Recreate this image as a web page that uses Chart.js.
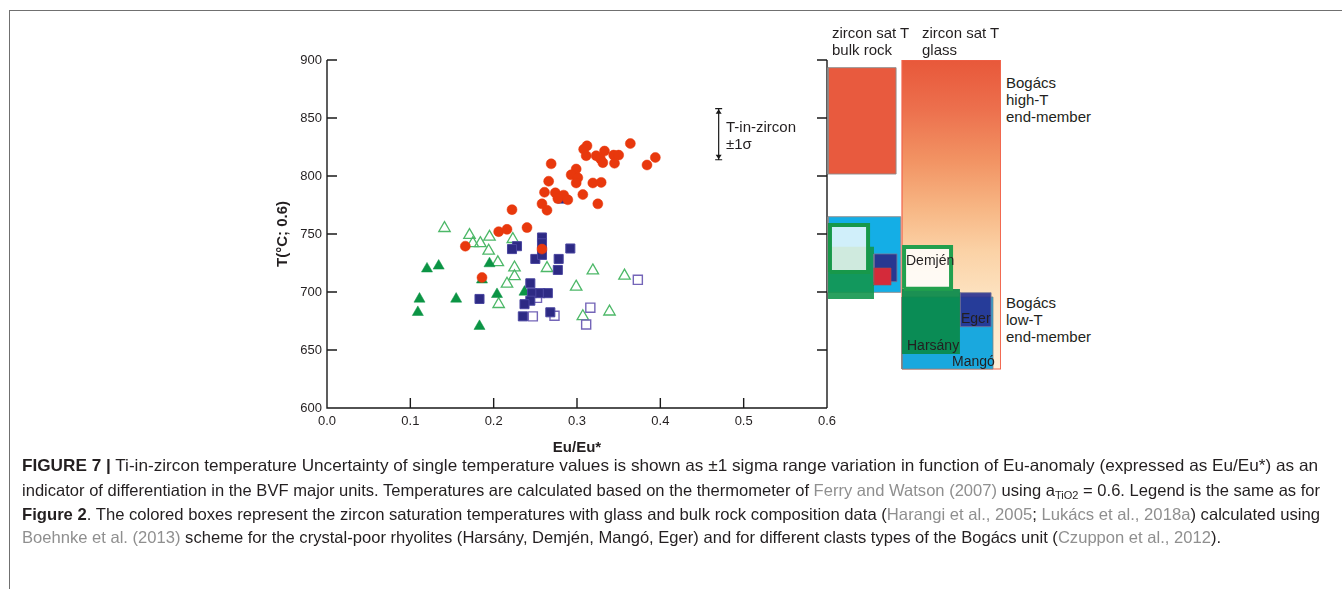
<!DOCTYPE html>
<html><head><meta charset="utf-8">
<script src="https://cdn.jsdelivr.net/npm/chart.js@4.4.0/dist/chart.umd.min.js"></script>
<style>
html,body{margin:0;padding:0;background:#fff;}
body{width:1342px;height:589px;position:relative;overflow:hidden;font-family:"Liberation Sans",Arial,Helvetica,sans-serif;color:#231f20;}
#frame{position:absolute;left:9px;top:10px;width:1340px;height:600px;border-left:1px solid #707070;border-top:1px solid #707070;}
#cA{position:absolute;left:0;top:0;}
#cB{position:absolute;left:827px;top:0;}
.lbl{position:absolute;font-size:15px;white-space:nowrap;line-height:17px;color:#231f20;}
.box{font-size:14px;line-height:16px;}
.cap{position:absolute;left:22px;white-space:nowrap;font-size:16.5px;line-height:19px;color:#231f20;transform-origin:0 0;}
.ref{color:#8f8f8f;}
sub{font-size:11px;vertical-align:-3px;line-height:0;}
</style></head>
<body>
<div id="frame"></div>
<canvas id="cA" width="900" height="589"></canvas>
<canvas id="cB" width="175" height="589"></canvas>

<div class="lbl" style="left:832px;top:24px;">zircon sat T<br>bulk rock</div>
<div class="lbl" style="left:922px;top:24px;">zircon sat T<br>glass</div>
<div class="lbl" style="left:1006px;top:74px;">Bogács<br>high-T<br>end-member</div>
<div class="lbl" style="left:1006px;top:294px;">Bogács<br>low-T<br>end-member</div>
<div class="lbl box" style="left:906px;top:252px;">Demjén</div>
<div class="lbl box" style="left:961px;top:310px;">Eger</div>
<div class="lbl box" style="left:907px;top:337px;">Harsány</div>
<div class="lbl box" style="left:952px;top:353px;">Mangó</div>
<div class="lbl" style="left:726px;top:118px;">T-in-zircon</div>
<div class="lbl" style="left:726px;top:135px;">±1σ</div>

<div class="cap" id="l1" style="top:456px;"><b>FIGURE 7 |</b> Ti-in-zircon temperature Uncertainty of single temperature values is shown as ±1 sigma range variation in function of Eu-anomaly (expressed as Eu/Eu*) as an</div>
<div class="cap" id="l2" style="top:481px;">indicator of differentiation in the BVF major units. Temperatures are calculated based on the thermometer of <span class="ref">Ferry and Watson (2007)</span> using a<sub>TiO2</sub> = 0.6. Legend is the same as for</div>
<div class="cap" id="l3" style="top:505px;"><b>Figure 2</b>. The colored boxes represent the zircon saturation temperatures with glass and bulk rock composition data (<span class="ref">Harangi et al., 2005</span>; <span class="ref">Lukács et al., 2018a</span>) calculated using</div>
<div class="cap" id="l4" style="top:528px;"><span class="ref">Boehnke et al. (2013)</span> scheme for the crystal-poor rhyolites (Harsány, Demjén, Mangó, Eger) and for different clasts types of the Bogács unit (<span class="ref">Czuppon et al., 2012</span>).</div>

<script>
// ---------- DATA ----------
const xTicks = [0.0, 0.1, 0.2, 0.3, 0.4, 0.5, 0.6];
const yTicks = [600, 650, 700, 750, 800, 850, 900];

// red filled circles
const redEu = [0.312,0.308,0.311,0.364,0.394,0.384,0.333,0.323,0.328,0.331,0.344,0.350,0.345,0.269,0.299,0.293,0.301,0.299,0.319,0.329,0.266,0.261,0.274,0.284,0.277,0.289,0.307,0.325,0.258,0.264,0.222,0.206,0.216,0.240,0.166,0.258,0.186];
const redT  = [826,823,817.5,828,816,809.5,821.5,817.5,815,811.5,818,818,811,810.5,806,801,798.5,794,794,794.5,795.5,786,785.5,783.5,780.5,779.5,784,776,776,770.5,771,752,754,755.5,739.5,737,712.5];

// navy filled squares
const navySqEu = [0.258,0.258,0.228,0.222,0.292,0.250,0.258,0.278,0.277,0.244,0.246,0.256,0.265,0.244,0.237,0.235,0.268,0.183];
const navySqT  = [747,742,739.5,737,737.5,728.5,732,728.5,719,707.5,699,699,699,692.5,689.5,679,682.5,694];

// open (purple) squares
const openSqEu = [0.373,0.316,0.311,0.247,0.273,0.252];
const openSqT  = [710.5,686.5,672,679,679.5,695];

// green filled triangles
const greenTriEu = [0.120,0.134,0.111,0.109,0.155,0.195,0.186,0.204,0.237,0.183];
const greenTriT  = [720,722.5,694,682.5,694,724.5,710.5,698,700,670.5];

// green open triangles
const openTriEu = [0.141,0.171,0.195,0.184,0.175,0.223,0.194,0.205,0.225,0.225,0.216,0.206,0.264,0.319,0.299,0.357,0.307,0.339];
const openTriT  = [755,749,747.5,742,742,745.5,735.5,725.5,721,713.5,707,689.5,720.5,718.5,704.5,714,679,683];

// navy filled triangle
const navyTriEu = [0.283];
const navyTriT  = [779];

// T-in-zircon uncertainty marker (centre and ±1 sigma, °C)
const sigmaCentre = 836;
const sigmaValue = 22;
const sigmaEu = 0.470;

// zircon saturation temperature ranges (°C): [low, high]
const satNames = ['bulk Bogács high-T','bulk rock A','bulk rock B','bulk rock C','bulk rock D','bulk rock E',
                  'glass Bogács','glass Mangó','glass Eger','glass Harsány','glass Demjén'];
const satTlow  = [801.7,699.7,694.0,717.2,708.9,706.0, 633.6,633.6,670.1,646.6,702.8];
const satThigh = [893.4,764.9,739.1,757.8,732.8,720.7, 900.0,695.7,699.4,702.6,738.8];

// ---------- LAYOUT / STYLE (box columns in panel units 0-100) ----------
const satCols = [[0.6,39.7],[0.6,42.4],[0.6,27.0],[1.7,23.6],[27.0,40.2],[27.0,36.8],
                 [43.1,99.8],[43.1,95.4],[76.4,94.3],[43.1,76.4],[44.3,71.3]];
const satStyle = [
  {bg:'#e85a3e', bc:'rgba(140,140,140,0.9)', bw:1},
  {bg:'#14aee6', bc:'rgba(140,140,140,0.9)', bw:1},
  {bg:'rgba(18,150,78,0.9)', bc:'rgba(18,150,78,0.0)', bw:0},
  {bg:'rgba(255,255,255,0.8)', bc:'#17984a', bw:4},
  {bg:'rgba(40,50,140,0.95)', bc:'rgba(120,120,150,0.8)', bw:1},
  {bg:'#d42a3a', bc:'rgba(160,80,80,0.6)', bw:1},
  {bg:'GRAD', bc:'#f2644c', bw:1.2},
  {bg:'#1aa8de', bc:'rgba(130,130,130,0.8)', bw:1},
  {bg:'rgba(40,48,145,0.9)', bc:'rgba(120,120,150,0.8)', bw:1},
  {bg:'rgba(10,138,74,0.93)', bc:'rgba(10,138,74,0.0)', bw:0},
  {bg:'rgba(255,255,255,0.85)', bc:'#22a04e', bw:4}
];

const toPts = (xs, ts) => xs.map((v, i) => ({x: v, y: ts[i]}));

// ---------- CHART A : scatter ----------
const TICK = 10;
const axesPlugin = {
  id: 'axesInward',
  afterDatasetsDraw(chart) {
    const {ctx, chartArea: a, scales: {x, y}} = chart;
    ctx.save();
    ctx.strokeStyle = '#1a1a1a';
    ctx.lineWidth = 1.4;
    ctx.beginPath();
    ctx.moveTo(a.left, a.top); ctx.lineTo(a.left, a.bottom); ctx.lineTo(a.right, a.bottom);
    ctx.moveTo(a.right, a.top); ctx.lineTo(a.right, a.bottom);
    yTicks.forEach(v => {
      const py = y.getPixelForValue(v);
      ctx.moveTo(a.left, py); ctx.lineTo(a.left + TICK, py);
      ctx.moveTo(a.right, py); ctx.lineTo(a.right - TICK, py);
    });
    xTicks.forEach(v => {
      const px = x.getPixelForValue(v);
      ctx.moveTo(px, a.bottom); ctx.lineTo(px, a.bottom - TICK);
    });
    ctx.stroke();
    // sigma bar
    const sx = x.getPixelForValue(sigmaEu);
    const sTop = y.getPixelForValue(sigmaCentre + sigmaValue);
    const sBot = y.getPixelForValue(sigmaCentre - sigmaValue);
    ctx.lineWidth = 1.2;
    ctx.beginPath();
    ctx.moveTo(sx, sTop); ctx.lineTo(sx, sBot);
    ctx.moveTo(sx - 3.5, sTop); ctx.lineTo(sx + 3.5, sTop);
    ctx.moveTo(sx - 3.5, sBot); ctx.lineTo(sx + 3.5, sBot);
    ctx.stroke();
    ctx.fillStyle = '#1a1a1a';
    ctx.beginPath();
    ctx.moveTo(sx, sTop + 0.5); ctx.lineTo(sx - 3, sTop + 5); ctx.lineTo(sx + 3, sTop + 5); ctx.closePath();
    ctx.moveTo(sx, sBot - 0.5); ctx.lineTo(sx - 3, sBot - 5); ctx.lineTo(sx + 3, sBot - 5); ctx.closePath();
    ctx.fill();
    ctx.restore();
  }
};

new Chart(document.getElementById('cA'), {
  type: 'scatter',
  data: {
    datasets: [
      {label:'red circles', data: toPts(redEu, redT), pointStyle:'circle', pointRadius:5, pointHoverRadius:5,
       backgroundColor:'#e8380d', borderColor:'#e8380d', borderWidth:0.5, order:1},
      {label:'navy triangle', data: toPts(navyTriEu, navyTriT), pointStyle:'triangle', pointRadius:6,
       backgroundColor:'#2e2a85', borderColor:'#2e2a85', borderWidth:0.5, order:2},
      {label:'navy squares', data: toPts(navySqEu, navySqT), pointStyle:'rect', pointRadius:6.4,
       backgroundColor:'#2d2a84', borderColor:'#4a46a0', borderWidth:1, order:3},
      {label:'green triangles', data: toPts(greenTriEu, greenTriT), pointStyle:'triangle', pointRadius:6.4,
       backgroundColor:'#0b9444', borderColor:'#0b9444', borderWidth:0.5, order:4},
      {label:'open squares', data: toPts(openSqEu, openSqT), pointStyle:'rect', pointRadius:6.4,
       backgroundColor:'rgba(255,255,255,0)', borderColor:'#7465b8', borderWidth:1.4, order:5},
      {label:'open triangles', data: toPts(openTriEu, openTriT), pointStyle:'triangle', pointRadius:6.6,
       backgroundColor:'rgba(255,255,255,0)', borderColor:'#4db868', borderWidth:1.3, order:6}
    ]
  },
  options: {
    responsive:false, animation:false, events:[],
    layout:{padding:{left:267, right:73, top:60, bottom:131}},
    plugins:{legend:{display:false}, tooltip:{enabled:false}},
    scales:{
      x:{type:'linear', min:0, max:0.6,
         afterFit: s => { s.height = 50; },
         afterBuildTicks: s => { s.ticks = xTicks.map(v => ({value:v})); },
         grid:{display:false, drawTicks:false}, border:{display:false},
         ticks:{padding:6, color:'#231f20', font:{family:'"Liberation Sans", Arial', size:13}, maxRotation:0,
                callback: v => Number(v).toFixed(1)},
         title:{display:true, text:'Eu/Eu*', color:'#231f20', font:{family:'"Liberation Sans", Arial', size:15, weight:'bold'}, padding:{top:0,bottom:1}}},
      y:{type:'linear', min:600, max:900,
         afterFit: s => { s.width = 60; },
         afterBuildTicks: s => { s.ticks = yTicks.map(v => ({value:v})); },
         grid:{display:false, drawTicks:false}, border:{display:false},
         ticks:{padding:5, color:'#231f20', font:{family:'"Liberation Sans", Arial', size:13}},
         title:{display:true, text:'T(°C; 0.6)', color:'#231f20', font:{family:'"Liberation Sans", Arial', size:15, weight:'bold'}, padding:{top:7,bottom:0}}}
    }
  },
  plugins:[axesPlugin]
});

// ---------- CHART B : saturation boxes ----------
function glassGradient(c) {
  const ch = c.chart;
  if (!ch.chartArea) return '#f5b080';
  const y = ch.scales.y;
  const g = ch.ctx.createLinearGradient(0, y.getPixelForValue(900), 0, y.getPixelForValue(634));
  g.addColorStop(0, '#e8583a');
  g.addColorStop(0.15, '#ec6e4c');
  g.addColorStop(0.33, '#f29464');
  g.addColorStop(0.48, '#f7b684');
  g.addColorStop(0.62, '#fbd2a6');
  g.addColorStop(0.8, '#fde6c6');
  g.addColorStop(1, '#feefd8');
  return g;
}

const boxSets = satNames.map((name, i) => {
  const [x0, x1] = satCols[i];
  const lo = satTlow[i], hi = satThigh[i];
  const st = satStyle[i];
  return {
    label: name,
    data: [{x:x0,y:lo},{x:x1,y:lo},{x:x1,y:hi},{x:x0,y:hi},{x:x0,y:lo}],
    fill: 'shape',
    backgroundColor: st.bg === 'GRAD' ? glassGradient : st.bg,
    borderColor: st.bc, borderWidth: st.bw,
    borderJoinStyle:'miter', borderCapStyle:'butt',
    pointRadius:0, pointHoverRadius:0, tension:0,
    order: 100 - i
  };
});

new Chart(document.getElementById('cB'), {
  type: 'line',
  data: {datasets: boxSets},
  options: {
    responsive:false, animation:false, events:[],
    layout:{padding:{left:0, right:1, top:60, bottom:181}},
    plugins:{legend:{display:false}, tooltip:{enabled:false}},
    scales:{
      x:{type:'linear', min:0, max:100, display:false},
      y:{type:'linear', min:600, max:900, display:false}
    }
  }
});

// ---------- caption line fitting ----------
const capTargets = {l1:1296, l2:1298, l3:1298, l4:1199};
Object.keys(capTargets).forEach(id => {
  const el = document.getElementById(id);
  const w = el.getBoundingClientRect().width;
  el.style.transform = 'scaleX(' + (capTargets[id] / w).toFixed(4) + ')';
});
</script>
</body></html>
